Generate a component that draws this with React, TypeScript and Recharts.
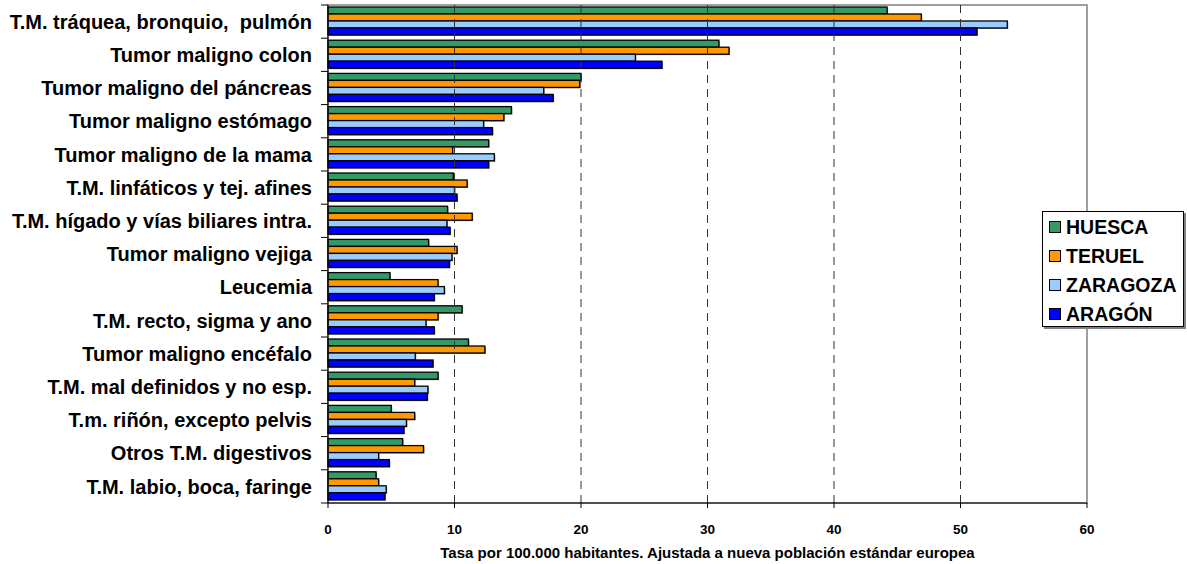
import React from "react";
import {
  BarChart,
  Bar,
  XAxis,
  YAxis,
  ReferenceLine,
  ReferenceArea,
} from "recharts";

const categories = [
  "T.M. tráquea, bronquio,  pulmón",
  "Tumor maligno colon",
  "Tumor maligno del páncreas",
  "Tumor maligno estómago",
  "Tumor maligno de la mama",
  "T.M. linfáticos y tej. afines",
  "T.M. hígado y vías biliares intra.",
  "Tumor maligno vejiga",
  "Leucemia",
  "T.M. recto, sigma y ano",
  "Tumor maligno encéfalo",
  "T.M. mal definidos y no esp.",
  "T.m. riñón, excepto pelvis",
  "Otros T.M. digestivos",
  "T.M. labio, boca, faringe",
];

const huesca = [44.2, 30.9, 20.0, 14.5, 12.7, 9.9, 9.45, 7.95, 4.9, 10.6, 11.1, 8.7, 5.0, 5.9, 3.8];
const teruel = [46.9, 31.7, 19.9, 13.9, 9.85, 11.0, 11.4, 10.2, 8.7, 8.7, 12.4, 6.85, 6.85, 7.55, 4.0];
const zaragoza = [53.7, 24.3, 17.05, 12.3, 13.15, 10.0, 9.4, 9.8, 9.2, 7.75, 6.9, 7.9, 6.2, 4.0, 4.6];
const aragon = [51.3, 26.4, 17.8, 13.0, 12.7, 10.2, 9.65, 9.6, 8.4, 8.4, 8.3, 7.85, 6.0, 4.85, 4.5];

const xTicks = [0, 10, 20, 30, 40, 50, 60];
const gridTicks = [10, 20, 30, 40, 50];

const series = [
  { key: "huesca", name: "HUESCA", color: "#339966" },
  { key: "teruel", name: "TERUEL", color: "#FF9900" },
  { key: "zaragoza", name: "ZARAGOZA", color: "#99CCFF" },
  { key: "aragon", name: "ARAGÓN", color: "#0000FF" },
];

const data = categories.map((cat, i) => ({
  cat,
  huesca: huesca[i],
  teruel: teruel[i],
  zaragoza: zaragoza[i],
  aragon: aragon[i],
}));

const FONT = '"Liberation Sans", Arial, sans-serif';

// bar with black outline and a small grey drop shadow, like the Excel original
const ShadowBar = (props: any) => {
  const { x, y, width, height, fill } = props;
  if (!width || width <= 0) return null;
  return (
    <g>
      <rect x={x + 1} y={y + 1} width={width} height={height} fill="#8c8c8c" />
      <rect x={x} y={y} width={width} height={height} fill={fill} stroke="#000" strokeWidth={1.3} />
    </g>
  );
};

const CategoryTick = (props: any) => {
  const { x, y, payload, index } = props;
  const half = payload && payload.offset ? payload.offset : 16.6;
  const axisX = x + 16;
  return (
    <g>
      <line x1={axisX - 7} x2={axisX} y1={y - half} y2={y - half} stroke="#000" />
      {index === categories.length - 1 && (
        <line x1={axisX - 7} x2={axisX} y1={y + half} y2={y + half} stroke="#000" />
      )}
      <text
        x={x}
        y={y}
        dy="0.36em"
        textAnchor="end"
        fontFamily={FONT}
        fontWeight="bold"
        fontSize={20}
        fill="#000"
        style={{ whiteSpace: "pre" }}
      >
        {payload.value}
      </text>
    </g>
  );
};

function LegendBox() {
  return (
    <div
      style={{
        position: "absolute",
        left: 1042,
        top: 211,
        width: 142,
        height: 116,
        boxSizing: "border-box",
        border: "1px solid #000",
        background: "#fff",
        boxShadow: "2px 2px 0 #808080",
        paddingTop: 1,
        fontFamily: FONT,
        fontWeight: "bold",
        fontSize: 19.5,
      }}
    >
      {series.map((s) => (
        <div key={s.key} style={{ height: 28.9, display: "flex", alignItems: "center" }}>
          <div
            style={{
              width: 12,
              height: 12,
              boxSizing: "border-box",
              border: "1px solid #000",
              background: s.color,
              marginLeft: 6,
              marginRight: 5,
            }}
          />
          <span>{s.name}</span>
        </div>
      ))}
    </div>
  );
}

export default function App() {
  return (
    <div style={{ position: "absolute", left: 0, top: 0, width: 1187, height: 564, background: "#fff" }}>
      <BarChart
        width={1187}
        height={564}
        data={data}
        layout="vertical"
        margin={{ top: 5, right: 100, bottom: 0, left: 0 }}
        barCategoryGap={2}
        barGap={0}
      >
        <ReferenceArea x1={0} x2={60} fill="none" stroke="#808080" strokeWidth={1.5} />
        {gridTicks.map((t) => (
          <ReferenceLine key={t} x={t} stroke="#333" strokeDasharray="8 6" />
        ))}
        <XAxis
          type="number"
          domain={[0, 60]}
          ticks={xTicks}
          interval={0}
          height={61}
          axisLine={{ stroke: "#000" }}
          tickLine={{ stroke: "#000" }}
          tickSize={5}
          tickMargin={16}
          tick={{ fontFamily: FONT, fontWeight: "bold", fontSize: 13.5, fill: "#000" }}
          label={{
            value: "Tasa por 100.000 habitantes. Ajustada a nueva población estándar europea",
            position: "insideBottom",
            offset: 6,
            fontFamily: FONT,
            fontWeight: "bold",
            fontSize: 15,
            fill: "#000",
          }}
        />
        <YAxis
          type="category"
          dataKey="cat"
          width={328}
          interval={0}
          axisLine={{ stroke: "#000" }}
          tickLine={false}
          tickSize={0}
          tickMargin={16}
          tick={<CategoryTick />}
        />
        {series.map((s) => (
          <Bar
            key={s.key}
            dataKey={s.key}
            name={s.name}
            fill={s.color}
            shape={<ShadowBar />}
            isAnimationActive={false}
          />
        ))}
      </BarChart>
      <LegendBox />
    </div>
  );
}
